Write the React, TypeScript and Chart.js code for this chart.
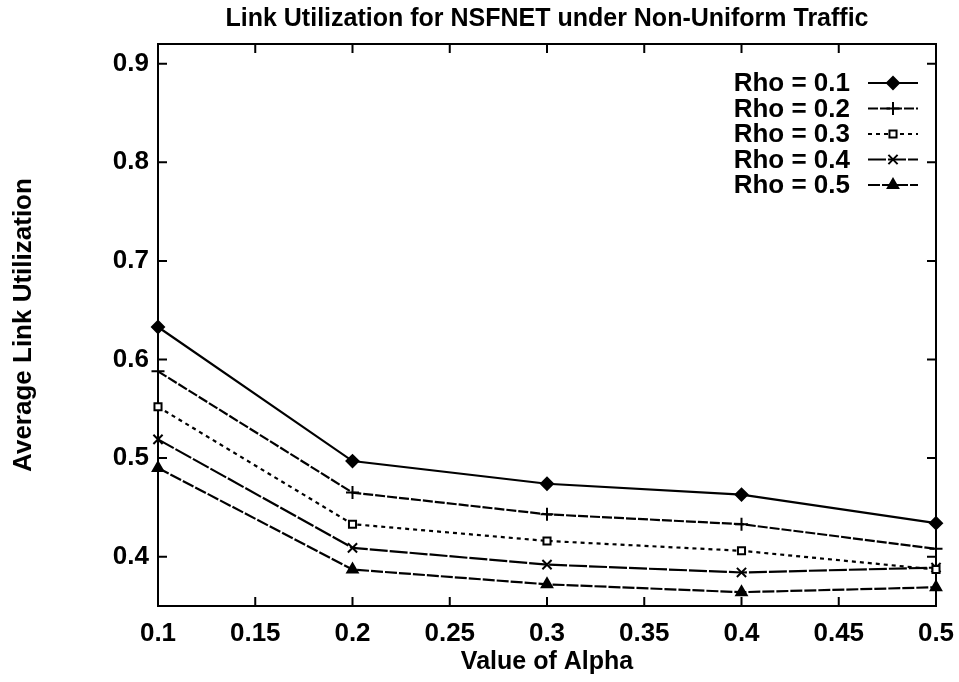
import React, { useEffect, useRef } from 'react';
import { Chart, registerables } from 'chart.js';
import { drawPoint } from 'chart.js/helpers';

Chart.register(...registerables);

// ---- data ----
const alphaValues = [0.1, 0.2, 0.3, 0.4, 0.5];
const rho01 = [0.633, 0.497, 0.474, 0.463, 0.434];
const rho02 = [0.588, 0.465, 0.443, 0.433, 0.408];
const rho03 = [0.552, 0.433, 0.416, 0.406, 0.387];
const rho04 = [0.519, 0.409, 0.392, 0.384, 0.389];
const rho05 = [0.49, 0.387, 0.372, 0.364, 0.369];
const seriesLabels = ['Rho = 0.1', 'Rho = 0.2', 'Rho = 0.3', 'Rho = 0.4', 'Rho = 0.5'];
const xTickValues = [0.1, 0.15, 0.2, 0.25, 0.3, 0.35, 0.4, 0.45, 0.5];
const yTickValues = [0.4, 0.5, 0.6, 0.7, 0.8, 0.9];
const titleText = 'Link Utilization for NSFNET under Non-Uniform Traffic';
const xTitle = 'Value of Alpha';
const yTitle = 'Average Link Utilization';

// ---- styles ----
const FONT = "'Liberation Sans', Arial, Helvetica, sans-serif";
const seriesStyles = [
  { pointStyle: 'rectRot', radius: 6, dash: [], fill: '#000' },
  { pointStyle: 'cross', radius: 6.5, dash: [10, 2], fill: '#000' },
  { pointStyle: 'rect', radius: 5, dash: [4, 4], fill: '#fff' },
  { pointStyle: 'crossRot', radius: 6.5, dash: [18, 2], fill: '#000' },
  { pointStyle: 'triangle', radius: 6, dash: [12, 2], fill: '#000' },
];
const allSeries = [rho01, rho02, rho03, rho04, rho05];

const framePlugin = {
  id: 'gnuFrame',
  beforeDatasetsDraw(chart: any) {
    const { ctx, chartArea: a, scales } = chart;
    const xs = scales.x;
    const ys = scales.y;
    ctx.save();
    ctx.strokeStyle = '#000';
    ctx.lineWidth = 2;
    ctx.setLineDash([]);
    ctx.strokeRect(a.left, a.top, a.right - a.left, a.bottom - a.top);
    ctx.beginPath();
    const tl = 9;
    for (const v of xTickValues) {
      const px = xs.getPixelForValue(v);
      ctx.moveTo(px, a.bottom);
      ctx.lineTo(px, a.bottom - tl);
      ctx.moveTo(px, a.top);
      ctx.lineTo(px, a.top + tl);
    }
    for (const v of yTickValues) {
      const py = ys.getPixelForValue(v);
      ctx.moveTo(a.left, py);
      ctx.lineTo(a.left + tl, py);
      ctx.moveTo(a.right, py);
      ctx.lineTo(a.right - tl, py);
    }
    ctx.stroke();
    ctx.restore();
  },
};

const legendPlugin = {
  id: 'gnuLegend',
  afterDraw(chart: any) {
    const { ctx, chartArea: a } = chart;
    const datasets = chart.data.datasets;
    ctx.save();
    ctx.font = `bold 26px ${FONT}`;
    ctx.textAlign = 'right';
    ctx.textBaseline = 'middle';
    const textRight = a.right - 86;
    const lineStart = a.right - 68;
    const lineEnd = a.right - 18;
    datasets.forEach((ds: any, i: number) => {
      const y = a.top + 39 + i * 25.5;
      ctx.fillStyle = '#000';
      ctx.fillText(ds.label, textRight, y + 1);
      ctx.strokeStyle = '#000';
      ctx.lineWidth = 2;
      ctx.setLineDash(ds.borderDash || []);
      ctx.beginPath();
      ctx.moveTo(lineStart, y);
      ctx.lineTo(lineEnd, y);
      ctx.stroke();
      ctx.setLineDash([]);
      ctx.fillStyle = ds.pointBackgroundColor;
      ctx.strokeStyle = '#000';
      ctx.lineWidth = ds.pointBorderWidth;
      drawPoint(ctx, { pointStyle: ds.pointStyle, radius: ds.pointRadius, borderWidth: ds.pointBorderWidth, rotation: 0 } as any, (lineStart + lineEnd) / 2, y);
    });
    ctx.restore();
  },
};

export default function App() {
  const canvasRef = useRef<HTMLCanvasElement | null>(null);

  useEffect(() => {
    if (!canvasRef.current) return;
    Chart.defaults.color = '#000';
    const datasets = allSeries.map((vals, i) => ({
      label: seriesLabels[i],
      data: alphaValues.map((x, j) => ({ x, y: vals[j] })),
      borderColor: '#000',
      backgroundColor: '#000',
      borderWidth: 2.2,
      borderDash: seriesStyles[i].dash,
      pointStyle: seriesStyles[i].pointStyle,
      pointRadius: seriesStyles[i].radius,
      pointBorderWidth: 2,
      pointBackgroundColor: seriesStyles[i].fill,
      pointBorderColor: '#000',
      tension: 0,
      clip: false,
    }));
    const chart = new Chart(canvasRef.current, {
      type: 'line',
      data: { datasets } as any,
      plugins: [framePlugin, legendPlugin],
      options: {
        animation: false,
        responsive: false,
        layout: { padding: { left: 0, right: 23, top: 0, bottom: 0 } },
        plugins: {
          legend: { display: false },
          tooltip: { enabled: false },
          title: {
            display: true,
            text: titleText,
            fullSize: false,
            color: '#000',
            font: { family: FONT, size: 25, weight: 'bold', lineHeight: 1.2 },
            padding: { top: 4, bottom: 10 },
          },
        },
        scales: {
          x: {
            type: 'linear',
            min: 0.1,
            max: 0.5,
            grid: { display: false, drawTicks: false },
            border: { display: false },
            afterBuildTicks: (scale: any) => {
              scale.ticks = xTickValues.map((v) => ({ value: v }));
            },
            afterFit: (scale: any) => {
              scale.height = 76;
              scale.paddingLeft = 0;
              scale.paddingRight = 0;
            },
            ticks: {
              padding: 12,
              maxRotation: 0,
              autoSkip: false,
              color: '#000',
              font: { family: FONT, size: 26, weight: 'bold' },
              callback: (v: any) => String(v),
            },
            title: {
              display: true,
              text: xTitle,
              color: '#000',
              font: { family: FONT, size: 25, weight: 'bold', lineHeight: 1.2 },
              padding: { top: 0, bottom: 5 },
            },
          },
          y: {
            type: 'linear',
            min: 0.35,
            max: 0.92,
            grid: { display: false, drawTicks: false },
            border: { display: false },
            afterBuildTicks: (scale: any) => {
              scale.ticks = yTickValues.map((v) => ({ value: v }));
            },
            afterFit: (scale: any) => {
              scale.width = 158;
              scale.paddingTop = 0;
              scale.paddingBottom = 0;
            },
            ticks: {
              padding: 9,
              autoSkip: false,
              color: '#000',
              font: { family: FONT, size: 26, weight: 'bold' },
              callback: (v: any) => String(v),
            },
            title: {
              display: true,
              text: yTitle,
              color: '#000',
              font: { family: FONT, size: 26, weight: 'bold', lineHeight: 1.2 },
              padding: { top: 8, bottom: 0 },
            },
          },
        },
      } as any,
    });
    return () => chart.destroy();
  }, []);

  return (
    <div style={{ position: 'absolute', left: 0, top: 0, width: 959, height: 682, background: '#fff' }}>
      <canvas ref={canvasRef} width={959} height={682} style={{ display: 'block' }} />
    </div>
  );
}
